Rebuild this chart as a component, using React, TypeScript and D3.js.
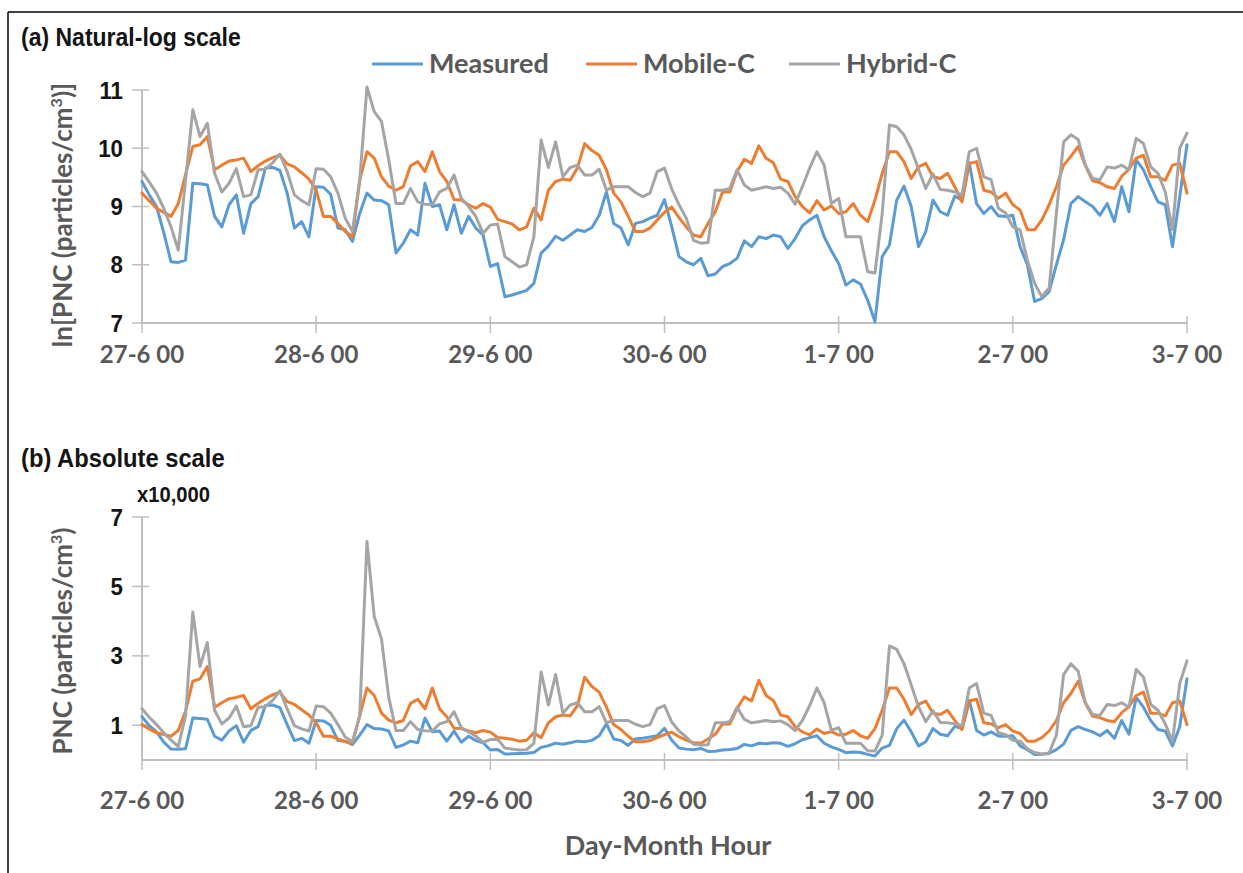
import React from "react";
import * as d3 from "d3";

// Hourly PNC, natural log, 27-6 00:00 to 3-7 00:00 (145 hourly values)
const measuredLn = [
  9.43, 9.2, 9.0, 8.55, 8.05, 8.04, 8.08, 9.4, 9.39, 9.37, 8.83, 8.65, 9.03, 9.2, 8.54, 9.05, 9.17, 9.66, 9.67, 9.62, 9.23, 8.63, 8.74, 8.48, 9.34,
  9.33, 9.21, 8.63, 8.6, 8.4, 8.88, 9.23, 9.11, 9.1, 9.03, 8.2, 8.37, 8.6, 8.51, 9.4, 9.0, 9.03, 8.6, 9.03, 8.54, 8.83, 8.63, 8.51, 7.97,
  8.02, 7.45, 7.48, 7.52, 7.56, 7.68, 8.2, 8.32, 8.49, 8.42, 8.51, 8.6, 8.57, 8.64, 8.85, 9.25, 8.71, 8.63, 8.34, 8.71, 8.74, 8.8, 8.85, 9.12,
  8.65, 8.14, 8.05, 8.0, 8.11, 7.81, 7.84, 7.97, 8.02, 8.11, 8.41, 8.31, 8.48, 8.45, 8.51, 8.48, 8.28, 8.45, 8.67, 8.77, 8.85, 8.48, 8.24, 8.02,
  7.65, 7.74, 7.67, 7.39, 7.02, 8.14, 8.34, 9.11, 9.35, 9.0, 8.31, 8.57, 9.11, 8.91, 8.85, 9.18, 9.11, 9.75, 9.05, 8.88, 9.0, 8.84, 8.83,
  8.85, 8.31, 8.0, 7.37, 7.42, 7.54, 8.0, 8.43, 9.05, 9.17, 9.08, 9.0, 8.85, 9.05, 8.74, 9.34, 8.91, 9.8, 9.63, 9.34, 9.08, 9.03, 8.31, 9.17,
  10.06,
];

const mobileLn = [
  9.23, 9.1, 8.97, 8.9, 8.83, 9.05, 9.55, 10.03, 10.06, 10.2, 9.63, 9.71, 9.78, 9.8, 9.83, 9.6, 9.7, 9.78, 9.84, 9.88, 9.73, 9.68, 9.58, 9.47, 9.28,
  8.83, 8.83, 8.71, 8.57, 8.48, 9.45, 9.94, 9.83, 9.51, 9.35, 9.28, 9.34, 9.7, 9.77, 9.6, 9.94, 9.6, 9.43, 9.12, 9.11, 9.03, 8.97, 9.05, 8.99,
  8.78, 8.74, 8.7, 8.6, 8.65, 8.97, 8.77, 9.28, 9.43, 9.47, 9.45, 9.66, 10.08, 9.96, 9.88, 9.63, 9.23, 9.08, 8.83, 8.57, 8.57, 8.63, 8.77, 8.9,
  8.99, 8.81, 8.65, 8.51, 8.48, 8.71, 8.91, 9.25, 9.25, 9.6, 9.81, 9.74, 10.04, 9.83, 9.75, 9.47, 9.43, 9.17, 9.0, 8.89, 9.1, 8.94, 9.01, 8.88,
  8.91, 9.05, 8.85, 8.74, 9.11, 9.57, 9.94, 9.94, 9.77, 9.48, 9.68, 9.74, 9.51, 9.48, 9.57, 9.34, 9.08, 9.74, 9.77, 9.28, 9.25, 9.14, 9.23,
  9.03, 8.94, 8.6, 8.6, 8.77, 9.03, 9.34, 9.71, 9.86, 10.03, 9.7, 9.44, 9.41, 9.34, 9.31, 9.52, 9.64, 9.83, 9.88, 9.51, 9.51, 9.45, 9.71, 9.74,
  9.23,
];

const hybridLn = [
  9.6, 9.42, 9.23, 8.97, 8.65, 8.25, 9.45, 10.66, 10.2, 10.43, 9.57, 9.25, 9.4, 9.65, 9.17, 9.2, 9.63, 9.64, 9.75, 9.9, 9.6, 9.2, 9.1, 9.03, 9.65,
  9.64, 9.51, 9.23, 8.8, 8.57, 9.45, 11.05, 10.63, 10.46, 9.8, 9.05, 9.05, 9.31, 9.08, 9.04, 9.03, 9.25, 9.31, 9.54, 9.14, 9.0, 8.83, 8.54, 8.68,
  8.7, 8.14, 8.05, 7.96, 8.0, 8.48, 10.14, 9.67, 10.11, 9.51, 9.67, 9.71, 9.54, 9.54, 9.64, 9.28, 9.34, 9.34, 9.34, 9.24, 9.17, 9.23, 9.6, 9.66,
  9.3, 9.03, 8.8, 8.42, 8.37, 8.38, 9.28, 9.28, 9.31, 9.63, 9.37, 9.28, 9.31, 9.34, 9.31, 9.33, 9.23, 9.04, 9.34, 9.66, 9.94, 9.71, 9.05, 9.14,
  8.48, 8.48, 8.48, 7.88, 7.86, 8.88, 10.4, 10.37, 10.23, 9.98, 9.64, 9.31, 9.56, 9.29, 9.28, 9.25, 9.2, 9.94, 10.0, 9.51, 9.46, 8.97, 8.89,
  8.65, 8.6, 8.08, 7.68, 7.45, 7.6, 8.88, 10.11, 10.23, 10.15, 9.71, 9.48, 9.46, 9.68, 9.66, 9.71, 9.63, 10.17, 10.08, 9.68, 9.57, 9.25, 8.6, 10.0,
  10.26,
];

const seriesNames = ["Measured", "Mobile-C", "Hybrid-C"];
const seriesColors = ["#5B9BD5", "#ED7D31", "#A5A5A5"];
const dayLabels = ["27-6 00", "28-6 00", "29-6 00", "30-6 00", "1-7 00", "2-7 00", "3-7 00"];
const lnTicks = [7, 8, 9, 10, 11];
const absTicks = [1, 3, 5, 7];

const W = 1243;
const H = 873;
const AXIS = "#BFBFBF";
const LABEL_GRAY = "#595959";
const SANS = "Lato, 'Open Sans', sans-serif";
const ARIAL = "'Liberation Sans', Arial, sans-serif";

const x = d3.scaleLinear().domain([0, 144]).range([142, 1187]);
const yLn = d3.scaleLinear().domain([7, 11]).range([323, 90]);
const yAbs = d3.scaleLinear().domain([0, 7]).range([760, 517]);

const lnSeries = [measuredLn, mobileLn, hybridLn];
// particles/cm3 in units of 10,000
const absSeries = lnSeries.map((s) => s.map((v) => Math.exp(v) / 10000));

function Panel({
  series,
  y,
  ticks,
  axisY,
  labelDy,
}: {
  series: number[][];
  y: d3.ScaleLinear<number, number>;
  ticks: number[];
  axisY: number;
  labelDy: number;
}) {
  const line = d3
    .line<number>()
    .x((_, i) => x(i))
    .y((v) => y(v));
  const top = y.range()[1];
  return (
    <g>
      {/* vertical axis */}
      <line x1={x(0)} x2={x(0)} y1={top} y2={axisY} stroke={AXIS} strokeWidth={2} />
      {ticks.map((t) => (
        <g key={t}>
          <line x1={x(0) - 10} x2={x(0) + 7} y1={y(t)} y2={y(t)} stroke={AXIS} strokeWidth={1.5} />
          <text
            transform={`translate(${x(0) - 19},${y(t) + 8.5}) scale(0.93,1)`}
            textAnchor="end"
            fontFamily={ARIAL}
            fontWeight="bold"
            fontSize={24}
            fill="#141414"
          >
            {t}
          </text>
        </g>
      ))}
      {/* horizontal axis */}
      <line x1={x(0)} x2={x(144)} y1={axisY} y2={axisY} stroke={AXIS} strokeWidth={2} />
      {dayLabels.map((d, i) => (
        <g key={d}>
          <line x1={x(i * 24)} x2={x(i * 24)} y1={axisY - 7} y2={axisY + 10} stroke={AXIS} strokeWidth={1.5} />
          <text
            x={x(i * 24)}
            y={axisY + labelDy}
            textAnchor="middle"
            fontFamily={SANS}
            fontWeight="bold"
            fontSize={24}
            fill={LABEL_GRAY}
          >
            {d}
          </text>
        </g>
      ))}
      {series.map((s, k) => (
        <path
          key={seriesNames[k]}
          d={line(s) || ""}
          fill="none"
          stroke={seriesColors[k]}
          strokeWidth={3}
          strokeLinejoin="round"
          strokeLinecap="round"
        />
      ))}
    </g>
  );
}

export default function App() {
  const legendX = [372, 586, 789];
  return (
    <svg
      width={W}
      height={H}
      viewBox={`0 0 ${W} ${H}`}
      style={{ position: "absolute", left: 0, top: 0, background: "#fff" }}
    >
      <rect x={0} y={0} width={W} height={H} fill="#fff" />
      {/* frame */}
      <line x1={8} x2={W} y1={12} y2={12} stroke="#000" strokeWidth={1.5} />
      <line x1={8} x2={8} y1={12} y2={H} stroke="#000" strokeWidth={1.5} />

      {/* panel (a) */}
      <text
        transform="translate(21,46) scale(0.92,1)"
        fontFamily={ARIAL}
        fontWeight="bold"
        fontSize={25}
        fill="#141414"
      >
        (a) Natural-log scale
      </text>
      {seriesNames.map((n, k) => (
        <g key={n}>
          <line x1={legendX[k]} x2={legendX[k] + 51} y1={64} y2={64} stroke={seriesColors[k]} strokeWidth={3} />
          <text
            x={legendX[k] + 57}
            y={73}
            fontFamily={SANS}
            fontWeight="bold"
            fontSize={27}
            fill={LABEL_GRAY}
          >
            {n}
          </text>
        </g>
      ))}
      <text
        transform="translate(72,215) rotate(-90)"
        textAnchor="middle"
        fontFamily={SANS}
        fontWeight="bold"
        fontSize={26}
        fill={LABEL_GRAY}
      >
        ln[PNC (particles/cm
        <tspan fontSize={16} dy={-10}>3</tspan>
        <tspan dy={10}>)]</tspan>
      </text>
      <Panel series={lnSeries} y={yLn} ticks={lnTicks} axisY={323} labelDy={40} />

      {/* panel (b) */}
      <text
        transform="translate(21,467) scale(0.95,1)"
        fontFamily={ARIAL}
        fontWeight="bold"
        fontSize={25}
        fill="#141414"
      >
        (b) Absolute scale
      </text>
      <text
        transform="translate(137,502) scale(0.92,1)"
        fontFamily={ARIAL}
        fontWeight="bold"
        fontSize={22}
        fill="#141414"
      >
        x10,000
      </text>
      <text
        transform="translate(72,641) rotate(-90)"
        textAnchor="middle"
        fontFamily={SANS}
        fontWeight="bold"
        fontSize={26}
        fill={LABEL_GRAY}
      >
        PNC (particles/cm
        <tspan fontSize={16} dy={-10}>3</tspan>
        <tspan dy={10}>)</tspan>
      </text>
      <Panel series={absSeries} y={yAbs} ticks={absTicks} axisY={760} labelDy={49} />

      <text
        x={668}
        y={855}
        textAnchor="middle"
        fontFamily={SANS}
        fontWeight="bold"
        fontSize={27}
        fill={LABEL_GRAY}
      >
        Day-Month  Hour
      </text>
    </svg>
  );
}
